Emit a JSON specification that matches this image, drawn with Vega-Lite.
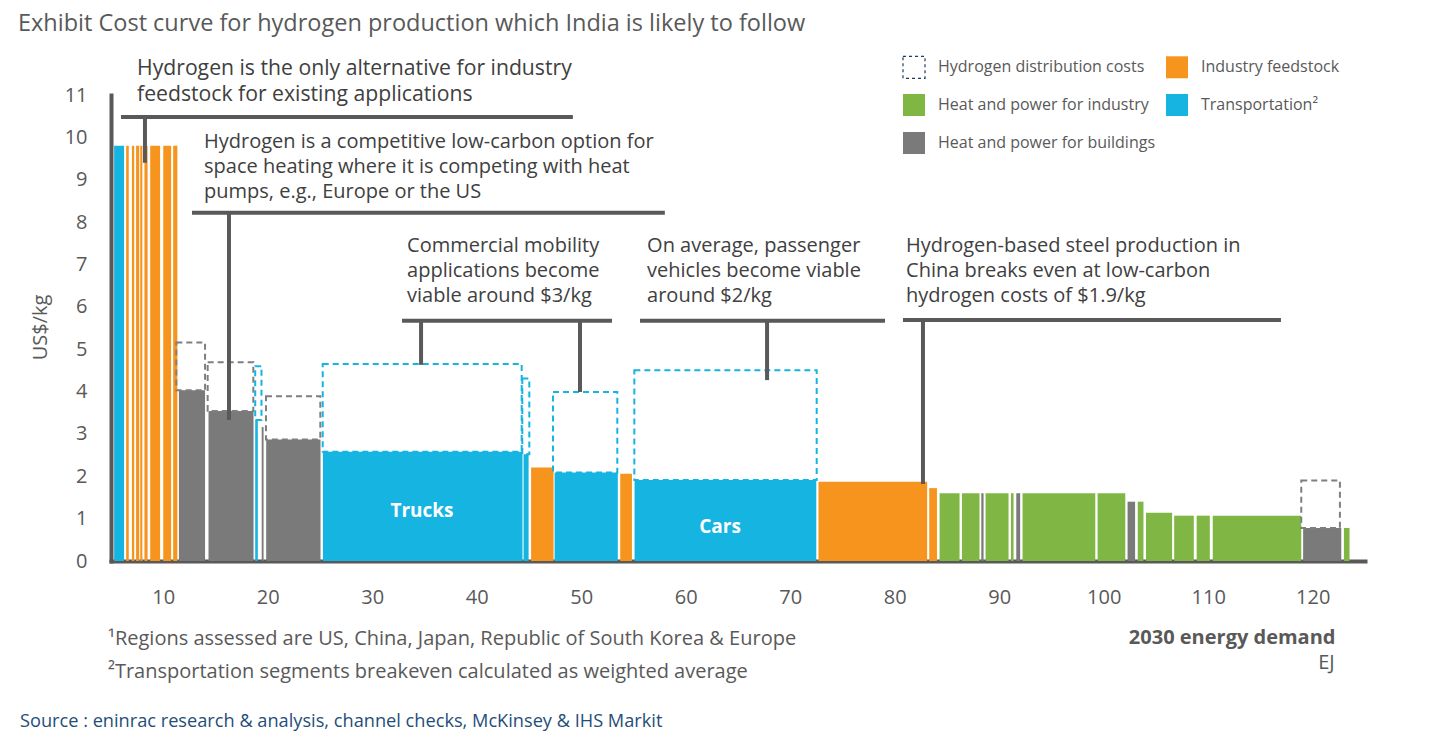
{
  "$schema": "https://vega.github.io/schema/vega-lite/v6.json",
  "width": 1254,
  "height": 466,
  "autosize": {"type": "none"},
  "padding": {"left": 111, "top": 95, "right": 74, "bottom": 185},
  "background": "white",
  "config": {"font": "Open Sans", "view": {"stroke": null}},
  "title": {"text": "Exhibit Cost curve for hydrogen production which India is likely to follow", "anchor": "start", "frame": "group", "dx": -93, "offset": 20, "fontSize": 23.5, "fontWeight": "normal", "color": "#595959"},
  "datasets": {
    "bars": [
      {"x0": 5.3, "x1": 6.25, "cost": 9.8, "cat": "Transportation²"},
      {"x0": 6.45, "x1": 6.7, "cost": 9.8, "cat": "Industry feedstock"},
      {"x0": 7.0, "x1": 7.22, "cost": 9.8, "cat": "Industry feedstock"},
      {"x0": 7.4, "x1": 7.7, "cost": 9.8, "cat": "Industry feedstock"},
      {"x0": 7.8, "x1": 8.0, "cost": 9.8, "cat": "Industry feedstock"},
      {"x0": 8.2, "x1": 8.5, "cost": 9.8, "cat": "Industry feedstock"},
      {"x0": 8.75, "x1": 9.7, "cost": 9.8, "cat": "Industry feedstock"},
      {"x0": 10.0, "x1": 10.75, "cost": 9.8, "cat": "Industry feedstock"},
      {"x0": 10.95, "x1": 11.35, "cost": 9.8, "cat": "Industry feedstock"},
      {"x0": 11.5, "x1": 14.0, "cost": 4.03, "cat": "Heat and power for buildings"},
      {"x0": 14.33, "x1": 18.64, "cost": 3.54, "cat": "Heat and power for buildings"},
      {"x0": 18.8, "x1": 19.05, "cost": 3.33, "cat": "Transportation²"},
      {"x0": 19.42, "x1": 19.6, "cost": 3.16, "cat": "Heat and power for buildings"},
      {"x0": 19.85, "x1": 25.05, "cost": 2.87, "cat": "Heat and power for buildings"},
      {"x0": 25.28, "x1": 44.38, "cost": 2.58, "cat": "Transportation²"},
      {"x0": 44.48, "x1": 44.96, "cost": 2.52, "cat": "Transportation²"},
      {"x0": 45.2, "x1": 47.35, "cost": 2.21, "cat": "Industry feedstock"},
      {"x0": 47.45, "x1": 53.5, "cost": 2.09, "cat": "Transportation²"},
      {"x0": 53.73, "x1": 54.85, "cost": 2.06, "cat": "Industry feedstock"},
      {"x0": 55.1, "x1": 72.49, "cost": 1.91, "cat": "Transportation²"},
      {"x0": 72.7, "x1": 83.1, "cost": 1.87, "cat": "Industry feedstock"},
      {"x0": 83.3, "x1": 84.04, "cost": 1.72, "cat": "Industry feedstock"},
      {"x0": 84.29, "x1": 86.2, "cost": 1.6, "cat": "Heat and power for industry"},
      {"x0": 86.43, "x1": 88.11, "cost": 1.6, "cat": "Heat and power for industry"},
      {"x0": 88.28, "x1": 88.5, "cost": 1.6, "cat": "Heat and power for buildings"},
      {"x0": 88.69, "x1": 90.89, "cost": 1.6, "cat": "Heat and power for industry"},
      {"x0": 91.12, "x1": 91.37, "cost": 1.6, "cat": "Heat and power for industry"},
      {"x0": 91.63, "x1": 92.0, "cost": 1.6, "cat": "Heat and power for buildings"},
      {"x0": 92.23, "x1": 99.19, "cost": 1.6, "cat": "Heat and power for industry"},
      {"x0": 99.41, "x1": 102.06, "cost": 1.6, "cat": "Heat and power for industry"},
      {"x0": 102.28, "x1": 103.0, "cost": 1.4, "cat": "Heat and power for buildings"},
      {"x0": 103.25, "x1": 103.8, "cost": 1.4, "cat": "Heat and power for industry"},
      {"x0": 104.04, "x1": 106.54, "cost": 1.14, "cat": "Heat and power for industry"},
      {"x0": 106.74, "x1": 108.62, "cost": 1.07, "cat": "Heat and power for industry"},
      {"x0": 108.89, "x1": 110.15, "cost": 1.07, "cat": "Heat and power for industry"},
      {"x0": 110.43, "x1": 118.9, "cost": 1.07, "cat": "Heat and power for industry"},
      {"x0": 119.08, "x1": 122.73, "cost": 0.78, "cat": "Heat and power for buildings"},
      {"x0": 122.98, "x1": 123.52, "cost": 0.78, "cat": "Heat and power for industry"}
    ],
    "dist": [
      {"x0": 11.25, "x1": 14.0, "low": 4.03, "high": 5.16, "cat": "Heat and power for buildings"},
      {"x0": 14.25, "x1": 18.62, "low": 3.54, "high": 4.69, "cat": "Heat and power for buildings"},
      {"x0": 18.8, "x1": 19.4, "low": 3.33, "high": 4.6, "cat": "Transportation²"},
      {"x0": 19.83, "x1": 25.03, "low": 2.87, "high": 3.89, "cat": "Heat and power for buildings"},
      {"x0": 25.26, "x1": 44.3, "low": 2.58, "high": 4.65, "cat": "Transportation²"},
      {"x0": 44.36, "x1": 45.03, "low": 2.52, "high": 4.31, "cat": "Transportation²"},
      {"x0": 47.3, "x1": 53.45, "low": 2.09, "high": 3.99, "cat": "Transportation²"},
      {"x0": 55.08, "x1": 72.53, "low": 1.91, "high": 4.5, "cat": "Transportation²"},
      {"x0": 118.9, "x1": 122.6, "low": 0.78, "high": 1.9, "cat": "Heat and power for buildings"}
    ],
    "rules": [
      {"x0": 5.96, "x1": 49.2, "y0": 10.48, "y1": 10.48},
      {"x0": 8.25, "x1": 8.25, "y0": 10.48, "y1": 9.4},
      {"x0": 12.75, "x1": 58.0, "y0": 8.22, "y1": 8.22},
      {"x0": 16.29, "x1": 16.29, "y0": 8.22, "y1": 3.33},
      {"x0": 32.85, "x1": 52.94, "y0": 5.67, "y1": 5.67},
      {"x0": 34.67, "x1": 34.67, "y0": 5.67, "y1": 4.63},
      {"x0": 49.88, "x1": 49.88, "y0": 5.67, "y1": 3.99},
      {"x0": 55.62, "x1": 79.07, "y0": 5.67, "y1": 5.67},
      {"x0": 67.78, "x1": 67.78, "y0": 5.67, "y1": 4.27},
      {"x0": 80.79, "x1": 116.96, "y0": 5.69, "y1": 5.69},
      {"x0": 82.7, "x1": 82.7, "y0": 5.69, "y1": 1.82}
    ],
    "notes1": [
      {"x0": 7.49, "y0": 11.88, "text": "Hydrogen is the only alternative for industry\nfeedstock for existing applications"}
    ],
    "notes": [
      {"x0": 13.9, "y0": 10.13, "text": "Hydrogen is a competitive low-carbon option for\nspace heating where it is competing with heat\npumps, e.g., Europe or the US"},
      {"x0": 33.33, "y0": 7.67, "text": "Commercial mobility\napplications become\nviable around $3/kg"},
      {"x0": 56.3, "y0": 7.67, "text": "On average, passenger\nvehicles become viable\naround $2/kg"},
      {"x0": 81.08, "y0": 7.67, "text": "Hydrogen-based steel production in\nChina breaks even at low-carbon\nhydrogen costs of $1.9/kg"}
    ],
    "barlabels": [
      {"x0": 34.76, "y0": 1.18, "text": "Trucks"},
      {"x0": 63.28, "y0": 0.8, "text": "Cars"}
    ],
    "footnotes": [
      {"x0": 4.71, "y0": -1.84, "text": "¹Regions assessed are US, China, Japan, Republic of South Korea & Europe"},
      {"x0": 4.71, "y0": -2.62, "text": "²Transportation segments breakeven calculated as weighted average"}
    ],
    "unit": [
      {"x0": 122.1, "y0": -2.41, "text": "EJ"}
    ],
    "source": [
      {"x0": -3.71, "y0": -3.8, "text": "Source : eninrac research & analysis, channel checks,  McKinsey & IHS Markit"}
    ]
  },
  "layer": [
    {
      "data": {"name": "bars"},
      "mark": {"type": "rect"},
      "encoding": {
        "x": {"field": "x0", "type": "quantitative", "scale": {"domain": [5, 125], "nice": false, "zero": false},
          "axis": {"values": [10, 20, 30, 40, 50, 60, 70, 80, 90, 100, 110, 120], "ticks": false, "grid": false, "domainColor": "#595959", "domainWidth": 4, "domainCap": "square", "labelFontSize": 20, "labelColor": "#595959", "labelPadding": 26, "title": "2030 energy demand", "titleFontSize": 20, "titleFontWeight": "bold", "titleColor": "#595959", "titleAlign": "right", "titleBaseline": "middle", "titleX": 1224, "titleY": 76}},
        "x2": {"field": "x1"},
        "y": {"field": "cost", "type": "quantitative", "scale": {"domain": [0, 11], "nice": false, "zero": false},
          "axis": {"values": [0, 1, 2, 3, 4, 5, 6, 7, 8, 9, 10, 11], "ticks": false, "grid": false, "domainColor": "#595959", "domainWidth": 4, "domainCap": "square", "labelFontSize": 20, "labelColor": "#595959", "labelPadding": 24, "title": "US$/kg", "titleFontSize": 20, "titleFontWeight": "normal", "titleColor": "#595959", "titleX": -71, "titleY": 232, "titleAlign": "center", "titleBaseline": "middle"}},
        "y2": {"datum": 0},
        "color": {"field": "cat", "type": "nominal",
          "scale": {"domain": ["Hydrogen distribution costs", "Heat and power for industry", "Heat and power for buildings", "Industry feedstock", "Transportation²"], "range": ["#ffffff", "#80B744", "#797A79", "#F7941D", "#15B4E1"]},
          "legend": {"title": null, "orient": "none", "legendX": 791, "legendY": -40, "columns": 2, "symbolType": "square", "symbolSize": 484, "labelFontSize": 16, "labelColor": "#595959", "labelLimit": 400, "rowPadding": 10, "columnPadding": 7, "labelOffset": 12, "padding": 0,
            "encode": {"symbols": {"update": {
              "stroke": {"signal": "datum.value === 'Hydrogen distribution costs' ? '#1f3b57' : 'transparent'"},
              "strokeDash": {"signal": "datum.value === 'Hydrogen distribution costs' ? [3, 3] : []"},
              "strokeWidth": {"value": 1.2}}}}}}
      }
    },
    {
      "data": {"name": "dist"},
      "mark": {"type": "rect", "filled": false, "strokeDash": [6, 4], "strokeWidth": 2},
      "encoding": {
        "x": {"field": "x0", "type": "quantitative", "scale": {"domain": [5, 125], "nice": false, "zero": false},
          "axis": {"values": [10, 20, 30, 40, 50, 60, 70, 80, 90, 100, 110, 120], "ticks": false, "grid": false, "domainColor": "#595959", "domainWidth": 4, "domainCap": "square", "labelFontSize": 20, "labelColor": "#595959", "labelPadding": 26, "title": "2030 energy demand", "titleFontSize": 20, "titleFontWeight": "bold", "titleColor": "#595959", "titleAlign": "right", "titleBaseline": "middle", "titleX": 1224, "titleY": 76}},
        "x2": {"field": "x1"},
        "y": {"field": "low", "type": "quantitative", "scale": {"domain": [0, 11], "nice": false, "zero": false},
          "axis": {"values": [0, 1, 2, 3, 4, 5, 6, 7, 8, 9, 10, 11], "ticks": false, "grid": false, "domainColor": "#595959", "domainWidth": 4, "domainCap": "square", "labelFontSize": 20, "labelColor": "#595959", "labelPadding": 24, "title": "US$/kg", "titleFontSize": 20, "titleFontWeight": "normal", "titleColor": "#595959", "titleX": -71, "titleY": 232, "titleAlign": "center", "titleBaseline": "middle"}},
        "y2": {"field": "high"},
        "stroke": {"field": "cat", "type": "nominal", "scale": {"domain": ["Heat and power for buildings", "Transportation²"], "range": ["#7f7f7f", "#15B4E1"]}, "legend": null}
      }
    },
    {
      "data": {"name": "rules"},
      "mark": {"type": "rule", "color": "#595959", "strokeWidth": 4},
      "encoding": {
        "x": {"field": "x0", "type": "quantitative", "scale": {"domain": [5, 125], "nice": false, "zero": false},
          "axis": {"values": [10, 20, 30, 40, 50, 60, 70, 80, 90, 100, 110, 120], "ticks": false, "grid": false, "domainColor": "#595959", "domainWidth": 4, "domainCap": "square", "labelFontSize": 20, "labelColor": "#595959", "labelPadding": 26, "title": "2030 energy demand", "titleFontSize": 20, "titleFontWeight": "bold", "titleColor": "#595959", "titleAlign": "right", "titleBaseline": "middle", "titleX": 1224, "titleY": 76}},
        "x2": {"field": "x1"},
        "y": {"field": "y0", "type": "quantitative", "scale": {"domain": [0, 11], "nice": false, "zero": false},
          "axis": {"values": [0, 1, 2, 3, 4, 5, 6, 7, 8, 9, 10, 11], "ticks": false, "grid": false, "domainColor": "#595959", "domainWidth": 4, "domainCap": "square", "labelFontSize": 20, "labelColor": "#595959", "labelPadding": 24, "title": "US$/kg", "titleFontSize": 20, "titleFontWeight": "normal", "titleColor": "#595959", "titleX": -71, "titleY": 232, "titleAlign": "center", "titleBaseline": "middle"}},
        "y2": {"field": "y1"}
      }
    },
    {
      "data": {"name": "notes1"},
      "mark": {"type": "text", "align": "left", "baseline": "top", "fontSize": 21.2, "lineHeight": 26, "color": "#404040", "lineBreak": "\n"},
      "encoding": {
        "x": {"field": "x0", "type": "quantitative", "scale": {"domain": [5, 125], "nice": false, "zero": false},
          "axis": {"values": [10, 20, 30, 40, 50, 60, 70, 80, 90, 100, 110, 120], "ticks": false, "grid": false, "domainColor": "#595959", "domainWidth": 4, "domainCap": "square", "labelFontSize": 20, "labelColor": "#595959", "labelPadding": 26, "title": "2030 energy demand", "titleFontSize": 20, "titleFontWeight": "bold", "titleColor": "#595959", "titleAlign": "right", "titleBaseline": "middle", "titleX": 1224, "titleY": 76}},
        "y": {"field": "y0", "type": "quantitative", "scale": {"domain": [0, 11], "nice": false, "zero": false},
          "axis": {"values": [0, 1, 2, 3, 4, 5, 6, 7, 8, 9, 10, 11], "ticks": false, "grid": false, "domainColor": "#595959", "domainWidth": 4, "domainCap": "square", "labelFontSize": 20, "labelColor": "#595959", "labelPadding": 24, "title": "US$/kg", "titleFontSize": 20, "titleFontWeight": "normal", "titleColor": "#595959", "titleX": -71, "titleY": 232, "titleAlign": "center", "titleBaseline": "middle"}},
        "text": {"field": "text", "type": "nominal"}
      }
    },
    {
      "data": {"name": "notes"},
      "mark": {"type": "text", "align": "left", "baseline": "top", "fontSize": 20, "lineHeight": 25, "color": "#404040", "lineBreak": "\n"},
      "encoding": {
        "x": {"field": "x0", "type": "quantitative", "scale": {"domain": [5, 125], "nice": false, "zero": false},
          "axis": {"values": [10, 20, 30, 40, 50, 60, 70, 80, 90, 100, 110, 120], "ticks": false, "grid": false, "domainColor": "#595959", "domainWidth": 4, "domainCap": "square", "labelFontSize": 20, "labelColor": "#595959", "labelPadding": 26, "title": "2030 energy demand", "titleFontSize": 20, "titleFontWeight": "bold", "titleColor": "#595959", "titleAlign": "right", "titleBaseline": "middle", "titleX": 1224, "titleY": 76}},
        "y": {"field": "y0", "type": "quantitative", "scale": {"domain": [0, 11], "nice": false, "zero": false},
          "axis": {"values": [0, 1, 2, 3, 4, 5, 6, 7, 8, 9, 10, 11], "ticks": false, "grid": false, "domainColor": "#595959", "domainWidth": 4, "domainCap": "square", "labelFontSize": 20, "labelColor": "#595959", "labelPadding": 24, "title": "US$/kg", "titleFontSize": 20, "titleFontWeight": "normal", "titleColor": "#595959", "titleX": -71, "titleY": 232, "titleAlign": "center", "titleBaseline": "middle"}},
        "text": {"field": "text", "type": "nominal"}
      }
    },
    {
      "data": {"name": "barlabels"},
      "mark": {"type": "text", "align": "center", "baseline": "middle", "fontSize": 19, "fontWeight": "bold", "color": "#ffffff"},
      "encoding": {
        "x": {"field": "x0", "type": "quantitative", "scale": {"domain": [5, 125], "nice": false, "zero": false},
          "axis": {"values": [10, 20, 30, 40, 50, 60, 70, 80, 90, 100, 110, 120], "ticks": false, "grid": false, "domainColor": "#595959", "domainWidth": 4, "domainCap": "square", "labelFontSize": 20, "labelColor": "#595959", "labelPadding": 26, "title": "2030 energy demand", "titleFontSize": 20, "titleFontWeight": "bold", "titleColor": "#595959", "titleAlign": "right", "titleBaseline": "middle", "titleX": 1224, "titleY": 76}},
        "y": {"field": "y0", "type": "quantitative", "scale": {"domain": [0, 11], "nice": false, "zero": false},
          "axis": {"values": [0, 1, 2, 3, 4, 5, 6, 7, 8, 9, 10, 11], "ticks": false, "grid": false, "domainColor": "#595959", "domainWidth": 4, "domainCap": "square", "labelFontSize": 20, "labelColor": "#595959", "labelPadding": 24, "title": "US$/kg", "titleFontSize": 20, "titleFontWeight": "normal", "titleColor": "#595959", "titleX": -71, "titleY": 232, "titleAlign": "center", "titleBaseline": "middle"}},
        "text": {"field": "text", "type": "nominal"}
      }
    },
    {
      "data": {"name": "footnotes"},
      "mark": {"type": "text", "align": "left", "baseline": "middle", "fontSize": 20, "color": "#595959"},
      "encoding": {
        "x": {"field": "x0", "type": "quantitative", "scale": {"domain": [5, 125], "nice": false, "zero": false},
          "axis": {"values": [10, 20, 30, 40, 50, 60, 70, 80, 90, 100, 110, 120], "ticks": false, "grid": false, "domainColor": "#595959", "domainWidth": 4, "domainCap": "square", "labelFontSize": 20, "labelColor": "#595959", "labelPadding": 26, "title": "2030 energy demand", "titleFontSize": 20, "titleFontWeight": "bold", "titleColor": "#595959", "titleAlign": "right", "titleBaseline": "middle", "titleX": 1224, "titleY": 76}},
        "y": {"field": "y0", "type": "quantitative", "scale": {"domain": [0, 11], "nice": false, "zero": false},
          "axis": {"values": [0, 1, 2, 3, 4, 5, 6, 7, 8, 9, 10, 11], "ticks": false, "grid": false, "domainColor": "#595959", "domainWidth": 4, "domainCap": "square", "labelFontSize": 20, "labelColor": "#595959", "labelPadding": 24, "title": "US$/kg", "titleFontSize": 20, "titleFontWeight": "normal", "titleColor": "#595959", "titleX": -71, "titleY": 232, "titleAlign": "center", "titleBaseline": "middle"}},
        "text": {"field": "text", "type": "nominal"}
      }
    },
    {
      "data": {"name": "unit"},
      "mark": {"type": "text", "align": "right", "baseline": "middle", "fontSize": 20, "color": "#595959"},
      "encoding": {
        "x": {"field": "x0", "type": "quantitative", "scale": {"domain": [5, 125], "nice": false, "zero": false},
          "axis": {"values": [10, 20, 30, 40, 50, 60, 70, 80, 90, 100, 110, 120], "ticks": false, "grid": false, "domainColor": "#595959", "domainWidth": 4, "domainCap": "square", "labelFontSize": 20, "labelColor": "#595959", "labelPadding": 26, "title": "2030 energy demand", "titleFontSize": 20, "titleFontWeight": "bold", "titleColor": "#595959", "titleAlign": "right", "titleBaseline": "middle", "titleX": 1224, "titleY": 76}},
        "y": {"field": "y0", "type": "quantitative", "scale": {"domain": [0, 11], "nice": false, "zero": false},
          "axis": {"values": [0, 1, 2, 3, 4, 5, 6, 7, 8, 9, 10, 11], "ticks": false, "grid": false, "domainColor": "#595959", "domainWidth": 4, "domainCap": "square", "labelFontSize": 20, "labelColor": "#595959", "labelPadding": 24, "title": "US$/kg", "titleFontSize": 20, "titleFontWeight": "normal", "titleColor": "#595959", "titleX": -71, "titleY": 232, "titleAlign": "center", "titleBaseline": "middle"}},
        "text": {"field": "text", "type": "nominal"}
      }
    },
    {
      "data": {"name": "source"},
      "mark": {"type": "text", "align": "left", "baseline": "middle", "fontSize": 18.2, "color": "#1f4e79"},
      "encoding": {
        "x": {"field": "x0", "type": "quantitative", "scale": {"domain": [5, 125], "nice": false, "zero": false},
          "axis": {"values": [10, 20, 30, 40, 50, 60, 70, 80, 90, 100, 110, 120], "ticks": false, "grid": false, "domainColor": "#595959", "domainWidth": 4, "domainCap": "square", "labelFontSize": 20, "labelColor": "#595959", "labelPadding": 26, "title": "2030 energy demand", "titleFontSize": 20, "titleFontWeight": "bold", "titleColor": "#595959", "titleAlign": "right", "titleBaseline": "middle", "titleX": 1224, "titleY": 76}},
        "y": {"field": "y0", "type": "quantitative", "scale": {"domain": [0, 11], "nice": false, "zero": false},
          "axis": {"values": [0, 1, 2, 3, 4, 5, 6, 7, 8, 9, 10, 11], "ticks": false, "grid": false, "domainColor": "#595959", "domainWidth": 4, "domainCap": "square", "labelFontSize": 20, "labelColor": "#595959", "labelPadding": 24, "title": "US$/kg", "titleFontSize": 20, "titleFontWeight": "normal", "titleColor": "#595959", "titleX": -71, "titleY": 232, "titleAlign": "center", "titleBaseline": "middle"}},
        "text": {"field": "text", "type": "nominal"}
      }
    }
  ]
}
